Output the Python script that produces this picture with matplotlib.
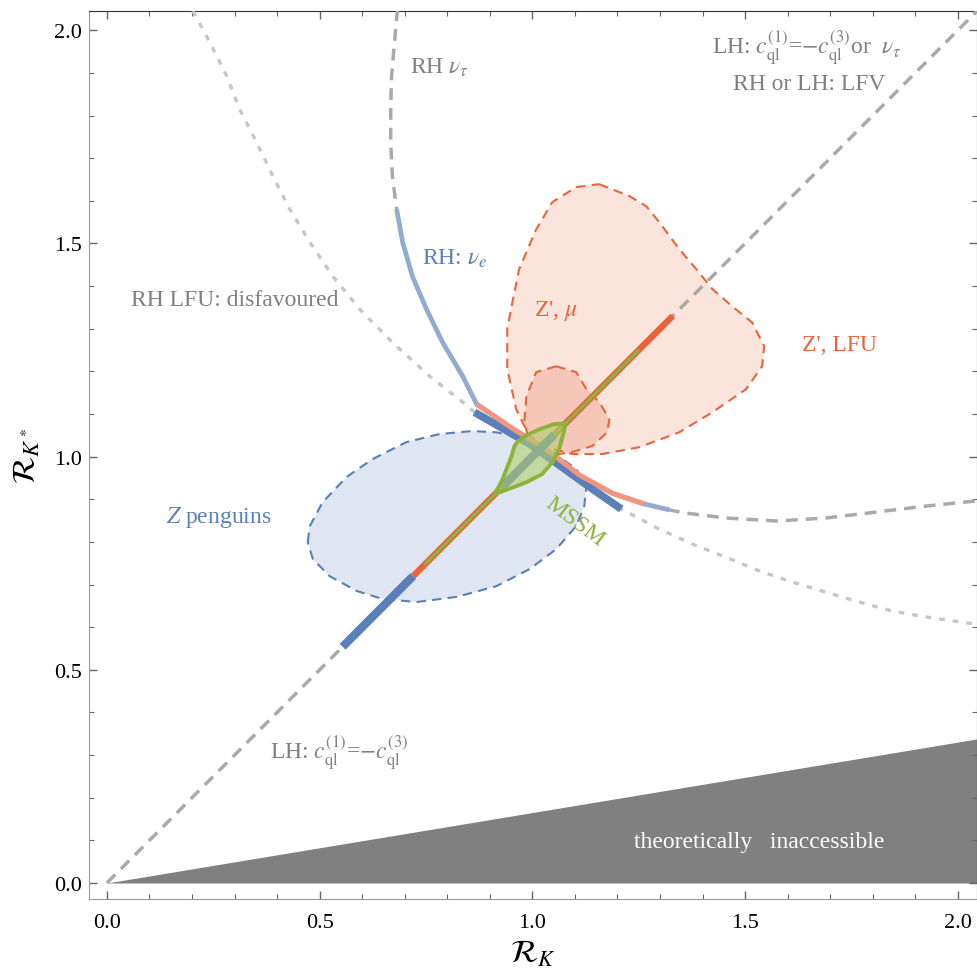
import matplotlib
matplotlib.use("Agg")
import matplotlib.pyplot as plt
import numpy as np

plt.rcParams['font.family'] = ['Liberation Serif', 'STIXGeneral', 'DejaVu Serif']
plt.rcParams['mathtext.fontset'] = 'stix'

# ---------------- data ----------------
# diagonal R_K = R_K* (LH)
diag_x = [0.0, 2.1]
diag_y = [0.0, 2.1]

# theoretically inaccessible boundary
inacc_x = [0.0, 2.1]
inacc_y = [0.0, 0.347]

# RH nu curve (gray dashed / RH nu_e light blue / salmon)
rh_nu_x = [0.683, 0.676, 0.669, 0.667, 0.667, 0.671, 0.681, 0.695, 0.718, 0.751,
           0.789, 0.836, 0.869, 0.953, 1.033, 1.110, 1.188, 1.263, 1.322, 1.357,
           1.455, 1.573, 1.690, 1.808, 1.925, 2.042, 2.10]
rh_nu_y = [2.049, 1.972, 1.892, 1.815, 1.737, 1.658, 1.580, 1.503, 1.423, 1.346,
           1.268, 1.189, 1.123, 1.066, 1.017, 0.957, 0.914, 0.889, 0.875, 0.868,
           0.856, 0.849, 0.856, 0.870, 0.884, 0.896, 0.902]
rh_nue_idx = (6, 18)      # light blue part (RH: nu_e), point indices
rh_salmon_idx = (12, 17)  # salmon part (Z' LFU)

# RH LFU disfavoured (dotted) with Z-penguin thick segment
lfu_x = [0.202, 0.242, 0.282, 0.312, 0.352, 0.390, 0.430, 0.477, 0.531, 0.594,
         0.671, 0.758, 0.836, 0.864, 0.993, 1.070, 1.141, 1.209, 1.298, 1.376,
         1.455, 1.533, 1.610, 1.690, 1.768, 1.845, 1.925, 2.042, 2.10]
lfu_y = [2.045, 1.972, 1.892, 1.815, 1.737, 1.658, 1.580, 1.503, 1.423, 1.346,
         1.268, 1.189, 1.128, 1.104, 1.030, 0.975, 0.924, 0.877, 0.830, 0.795,
         0.764, 0.732, 0.706, 0.682, 0.659, 0.638, 0.624, 0.607, 0.600]
zpen_curve_idx = (13, 17)

# bars along the diagonal
zpen_bar_segments = [(0.554, 0.72), (0.927, 1.052)]
zp_bar = (0.72, 1.33)
mssm_line = (0.746, 1.251)

# Z penguins region
zpen_x = [0.472, 0.477, 0.507, 0.563, 0.624, 0.704, 0.782, 0.859, 0.915, 0.977,
          1.047, 1.103, 1.127, 1.122, 1.103, 1.056, 0.993, 0.915, 0.822, 0.728,
          0.648, 0.587, 0.523, 0.484]
zpen_y = [0.800, 0.837, 0.893, 0.952, 0.994, 1.034, 1.053, 1.060, 1.057, 1.046,
          1.011, 0.971, 0.931, 0.884, 0.837, 0.783, 0.736, 0.696, 0.671, 0.659,
          0.666, 0.685, 0.720, 0.760]

# Z' mu region (large)
zpmu_x = [1.157, 1.228, 1.268, 1.298, 1.345, 1.385, 1.423, 1.469, 1.516, 1.545,
          1.540, 1.502, 1.423, 1.345, 1.251, 1.164, 1.094, 1.047, 0.993, 0.962,
          0.941, 0.941, 0.953, 0.969, 1.009, 1.047, 1.103]
zpmu_y = [1.639, 1.611, 1.587, 1.550, 1.487, 1.440, 1.393, 1.353, 1.315, 1.259,
          1.212, 1.158, 1.104, 1.057, 1.022, 1.006, 1.006, 1.018, 1.048, 1.111,
          1.205, 1.299, 1.362, 1.440, 1.533, 1.597, 1.632]

# Z' small region
zps_x = [1.056, 1.103, 1.127, 1.157, 1.181, 1.176, 1.141, 1.094, 1.033, 0.993,
         0.981, 0.986, 1.009]
zps_y = [1.212, 1.198, 1.158, 1.128, 1.088, 1.057, 1.025, 1.011, 1.001, 1.034,
         1.081, 1.142, 1.198]

# MSSM lens
lens_x = [0.912, 0.930, 0.951, 0.958, 0.966, 0.986, 1.016, 1.050, 1.078,
          1.075, 1.063, 1.047, 1.023, 0.986, 0.955, 0.930]
lens_y = [0.912, 0.947, 1.001, 1.025, 1.036, 1.050, 1.064, 1.076, 1.078,
          1.062, 1.018, 0.987, 0.959, 0.940, 0.928, 0.919]

# ---------------- colours ----------------
GRAY_TXT = '#808080'
DASH_GRAY = '#aaaaaa'
DOT_GRAY = '#c6c6c6'
BLUE = '#5b7fb8'
LBLUE = '#92abd3'
SALMON = '#f2957c'
ORANGE = '#e9643a'
GREEN = '#8db33a'


def part(xs, ys, idx):
    lo, hi = idx
    return xs[lo:hi + 1], ys[lo:hi + 1]


fig = plt.figure(figsize=(9.78, 9.79), dpi=100)
ax = fig.add_axes([0.091, 0.0807, 0.908, 0.907])
ax.set_xlim(-0.042, 2.045)
ax.set_ylim(-0.0375, 2.045)

# inaccessible region
ax.fill_between(inacc_x, 0, inacc_y, color='#808080', lw=0, zorder=1)

# regions
ax.fill(zpen_x, zpen_y, facecolor='#dfe6f1', edgecolor='none', zorder=2)
ax.fill(zpen_x, zpen_y, facecolor='none', edgecolor=BLUE, lw=1.5,
        ls=(0, (4.5, 3.0)), zorder=3)
ax.fill(zpmu_x, zpmu_y, facecolor='#fbe0d6', edgecolor='none', alpha=0.85, zorder=2)
ax.fill(zpmu_x, zpmu_y, facecolor='none', edgecolor=ORANGE, lw=1.5,
        ls=(0, (4.5, 3.0)), zorder=3)
ax.fill(zps_x, zps_y, facecolor='#f4bba9', edgecolor='none', alpha=0.7, zorder=2)
ax.fill(zps_x, zps_y, facecolor='none', edgecolor=ORANGE, lw=1.5,
        ls=(0, (4.5, 3.0)), zorder=3)

# diagonal dashed
ax.plot(diag_x, diag_y, color=DASH_GRAY, lw=2.5, ls=(0, (3.4, 2.3)), zorder=4)
# RH nu dashed
ax.plot(rh_nu_x, rh_nu_y, color=DASH_GRAY, lw=2.5, ls=(0, (3.4, 2.3)), zorder=4)
# LFU dotted
ax.plot(lfu_x, lfu_y, color=DOT_GRAY, lw=2.4, ls=(0, (1.7, 2.4)), zorder=4)

# RH nu_e light blue
x, y = part(rh_nu_x, rh_nu_y, rh_nue_idx)
ax.plot(x, y, color=LBLUE, lw=3.4, solid_capstyle='butt', solid_joinstyle='round', zorder=5)
# salmon part
x, y = part(rh_nu_x, rh_nu_y, rh_salmon_idx)
ax.plot(x, y, color=SALMON, lw=3.6, solid_capstyle='butt', solid_joinstyle='round', zorder=6)
# Z penguin thick segment on LFU curve
x, y = part(lfu_x, lfu_y, zpen_curve_idx)
ax.plot(x, y, color=BLUE, lw=5.5, solid_capstyle='butt', solid_joinstyle='round', zorder=5.5)

# diagonal bars
ax.plot(zp_bar, zp_bar, color=ORANGE, lw=4.6, solid_capstyle='butt', zorder=7)
ax.plot(mssm_line, mssm_line, color=GREEN, lw=2.2, solid_capstyle='butt', zorder=7.5)
for lo, hi in zpen_bar_segments:
    ax.plot([lo, hi], [lo, hi], color=BLUE, lw=6.0, solid_capstyle='butt', zorder=8)

# MSSM lens
ax.fill(lens_x, lens_y, facecolor='#b2cf6e', edgecolor='none', alpha=0.6, zorder=9)
ax.fill(lens_x, lens_y, facecolor='none', edgecolor=GREEN, lw=2.8,
        joinstyle='round', zorder=10)

# ---------------- labels ----------------
fs = 17
ax.text(0.782, 1.913, r"RH $\nu_\tau$", color=GRAY_TXT, fontsize=fs, ha='center', va='center')
ax.text(1.646, 1.962, r"LH: $c_{\rm ql}^{(1)}$=$-c_{\rm ql}^{(3)}$or  $\nu_\tau$",
        color=GRAY_TXT, fontsize=fs, ha='center', va='center')
ax.text(1.65, 1.876, "RH or LH: LFV", color=GRAY_TXT, fontsize=fs, ha='center', va='center')
ax.text(0.817, 1.465, r"RH: $\nu_e$", color=BLUE, fontsize=fs, ha='center', va='center')
ax.text(0.30, 1.369, "RH LFU: disfavoured", color=GRAY_TXT, fontsize=fs, ha='center', va='center')
ax.text(1.056, 1.343, r"Z', $\mu$", color=ORANGE, fontsize=fs, ha='center', va='center')
ax.text(1.721, 1.264, "Z', LFU", color=ORANGE, fontsize=fs, ha='center', va='center')
ax.text(0.263, 0.860, r"$Z$ penguins", color=BLUE, fontsize=fs, ha='center', va='center')
ax.text(1.099, 0.849, "MSSM", color=GREEN, fontsize=fs, ha='center', va='center',
        rotation=-37, rotation_mode='anchor', zorder=11)
ax.text(0.547, 0.309, r"LH: $c_{\rm ql}^{(1)}$=$-c_{\rm ql}^{(3)}$",
        color=GRAY_TXT, fontsize=fs, ha='center', va='center')
ax.text(1.533, 0.098, "theoretically   inaccessible", color='white', fontsize=fs,
        ha='center', va='center')

# ---------------- axes styling ----------------
ax.set_xticks([0.0, 0.5, 1.0, 1.5, 2.0])
ax.set_yticks([0.0, 0.5, 1.0, 1.5, 2.0])
ax.set_xticks(np.arange(0, 2.05, 0.1), minor=True)
ax.set_yticks(np.arange(0, 2.05, 0.1), minor=True)
ax.set_xticklabels(["0.0", "0.5", "1.0", "1.5", "2.0"])
ax.set_yticklabels(["0.0", "0.5", "1.0", "1.5", "2.0"])
ax.tick_params(which='both', direction='in', top=True, right=True, colors='#666666',
               labelcolor='black', labelsize=16)
ax.tick_params(axis='x', which='major', length=6, width=1.0, pad=10)
ax.tick_params(axis='y', which='major', length=6, width=1.0, pad=5)
ax.tick_params(which='minor', length=3.5, width=0.8)
for s in ['left', 'bottom']:
    ax.spines[s].set_color('#999999')
for s in ['top', 'right']:
    ax.spines[s].set_color('#333333')

ax.set_xlabel(r"$\mathcal{R}_K$", fontsize=23, labelpad=5)
ax.set_ylabel(r"$\mathcal{R}_{K^*}$", fontsize=23, labelpad=8)

fig.savefig("out.png", dpi=100)
